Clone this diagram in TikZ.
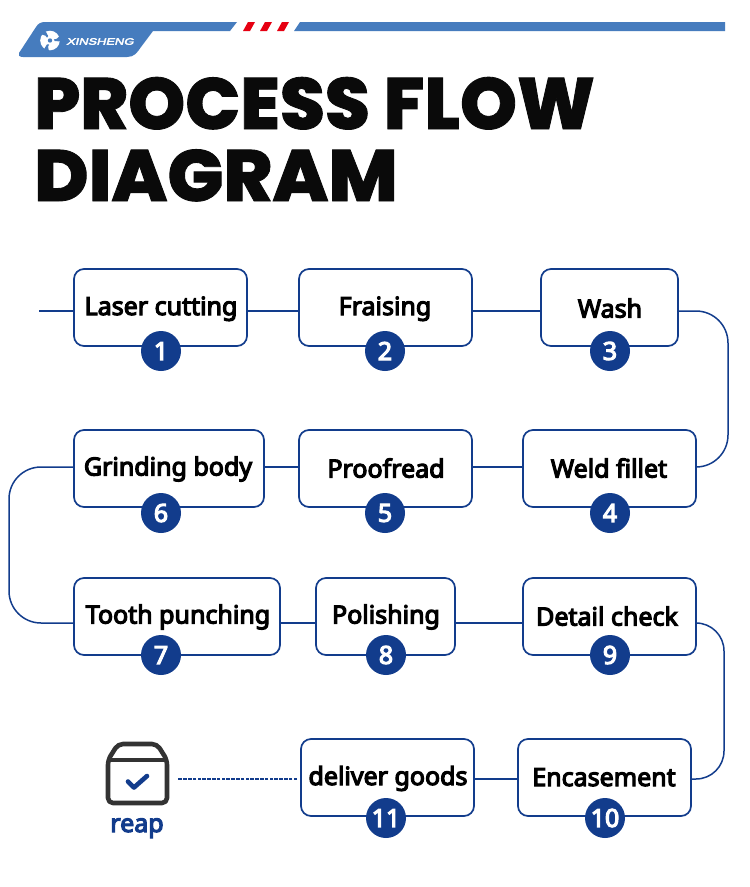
\documentclass[tikz,border=0pt]{standalone}
\usepackage{fontspec}
\setmainfont{Noto Sans}
\newfontfamily\labelfont[FakeBold=4.6]{Noto Sans}
\newfontfamily\headfont[FakeBold=1.2]{Poppins ExtraBold}
\newfontfamily\brandfont[FakeBold=4,FakeSlant=0.25,FakeStretch=1.4]{Liberation Sans}
\definecolor{flowblue}{HTML}{123C8C}
\definecolor{bandblue}{HTML}{467CBE}
\definecolor{slashred}{HTML}{E60012}
\definecolor{inkblack}{HTML}{0A0A0A}
\definecolor{boxgrey}{HTML}{333333}
\tikzset{
  x=1pt,y=-1pt,
  stage/.style={draw=flowblue,line width=1.7pt,rounded corners=10pt,fill=white,minimum height=77pt,inner sep=0pt},
  badge/.style={circle,fill=flowblue,text=white,minimum size=40pt,inner sep=0pt,font=\labelfont\fontsize{25}{28}\selectfont},
  link/.style={draw=flowblue,line width=1.5pt},
  headline/.style={font=\headfont\fontsize{72.5}{75}\selectfont,text=inkblack,anchor=base west,inner sep=0pt},
  stagetext/.style={inner sep=0pt,anchor=base,font=\labelfont\fontsize{25}{28}\selectfont,text=black},
}
\begin{document}
\begin{tikzpicture}
\useasboundingbox (0,0) rectangle (750,887);
\fill[white] (0,0) rectangle (750,887);

% header band
\fill[bandblue] (19,53) -- (36,27) .. controls (38,23.5) and (41,22) .. (45,22) -- (237,22) -- (230,31) -- (153,31)
   -- (141,47) .. controls (137,53) and (134,57) .. (127,57) -- (23,57) .. controls (19,57) and (18,55) .. (19,53) -- cycle;
\fill[bandblue] (300,22) -- (725,22) -- (725,31) -- (294,31) -- cycle;
\foreach \sx in {243,260,277}
  \fill[slashred] (\sx+5,22) -- (\sx+12,22) -- (\sx+7,31) -- (\sx,31) -- cycle;

% brand mark: a white disc cut by three curved blades
\fill[white] (50,40.5) circle (9.8);
\fill[bandblue] (50,40.5) circle (2.2);
\foreach \a in {-25,95,215}
  \fill[bandblue] (50,40.5) ++(\a:11) .. controls +(\a+165:4) and +(\a+60:2) .. ++(\a+175:7) -- ++(\a+90:2) .. controls +(\a+20:3) and +(\a+150:3) .. ++(\a+15:8) -- cycle;
\node[inner sep=0pt,text=white,font=\brandfont\fontsize{9.2}{10}\selectfont] (brand) at (100,41.5) {XINSHENG};

% title
\node[headline] (titleA) at (34,129) {PROCESS FLOW};
\node[headline,xscale=1.022] (titleB) at (34,201) {DIAGRAM};

% process stages
\node[stage,minimum width=173pt] (s1) at (160.5,307.5) {};
\node[stage,minimum width=173pt] (s2) at (385.5,307.5) {};
\node[stage,minimum width=137pt] (s3) at (609.5,307.5) {};
\node[stage,minimum width=173pt] (s4) at (609.5,468.5) {};
\node[stage,minimum width=173pt] (s5) at (385.5,468.5) {};
\node[stage,minimum width=190pt] (s6) at (169,468.5) {};
\node[stage,minimum width=206pt] (s7) at (177,616.5) {};
\node[stage,minimum width=139pt] (s8) at (385.5,616.5) {};
\node[stage,minimum width=173pt] (s9) at (609.5,616.5) {};
\node[stage,minimum width=173pt] (s10) at (604.5,777.5) {};
\node[stage,minimum width=173pt] (s11) at (387.5,777.5) {};

\node[stagetext] (t1) at (161,315) {Laser cutting};
\node[stagetext] (t2) at (385,315) {Fraising};
\node[stagetext] (t3) at (610,317.5) {Wash};
\node[stagetext] (t4) at (609,477.5) {Weld fillet};
\node[stagetext] (t5) at (386,477.5) {Proofread};
\node[stagetext] (t6) at (168,475.5) {Grinding body};
\node[stagetext] (t7) at (178,623.5) {Tooth punching};
\node[stagetext] (t8) at (386,623.5) {Polishing};
\node[stagetext] (t9) at (607,625.5) {Detail check};
\node[stagetext] (t10) at (604,786) {Encasement};
\node[stagetext] (t11) at (388,785) {deliver goods};

% connectors
\coordinate (start) at (39,311);
\coordinate (turnA) at (728,311);
\coordinate (turnAb) at (728,467);
\coordinate (turnB) at (9,467);
\coordinate (turnBb) at (9,623);
\coordinate (turnC) at (724,623);
\coordinate (turnCb) at (724,779);
\draw[link] (start) -- ([yshift=-3.5pt]s1.west);
\draw[link] ([yshift=-3.5pt]s1.east) -- ([yshift=-3.5pt]s2.west);
\draw[link] ([yshift=-3.5pt]s2.east) -- ([yshift=-3.5pt]s3.west);
\draw[link,rounded corners=32pt] ([yshift=-3.5pt]s3.east) -- (turnA) -- (turnAb) -- ([yshift=1.5pt]s4.east);
\draw[link] ([yshift=1.5pt]s4.west) -- ([yshift=1.5pt]s5.east);
\draw[link] ([yshift=1.5pt]s5.west) -- ([yshift=1.5pt]s6.east);
\draw[link,rounded corners=32pt] ([yshift=1.5pt]s6.west) -- (turnB) -- (turnBb) -- ([yshift=-6.5pt]s7.west);
\draw[link] ([yshift=-6.5pt]s7.east) -- ([yshift=-6.5pt]s8.west);
\draw[link] ([yshift=-6.5pt]s8.east) -- ([yshift=-6.5pt]s9.west);
\draw[link,rounded corners=28pt] ([yshift=-6.5pt]s9.east) -- (turnC) -- (turnCb) -- ([yshift=-1.5pt]s10.east);
\draw[link] ([yshift=-1.5pt]s10.west) -- ([yshift=-1.5pt]s11.east);

% numbered badges
\node[badge] (b1) at (161,351) {1};
\node[badge] (b2) at (385,351) {2};
\node[badge] (b3) at (610,351) {3};
\node[badge] (b4) at (610,513) {4};
\node[badge] (b5) at (385,513) {5};
\node[badge] (b6) at (161,513) {6};
\node[badge] (b7) at (161,655) {7};
\node[badge] (b8) at (386,655) {8};
\node[badge] (b9) at (610,655) {9};
\node[badge] (b10) at (605,818) {10};
\node[badge] (b11) at (386,818) {11};

% delivered parcel
\draw[boxgrey,line width=4.6pt,line join=round,rounded corners=5pt]
  (108,760) -- (108,803) -- (167,803) -- (167,760) -- (157,744) -- (118,744) -- cycle;
\draw[boxgrey,line width=4.6pt] (108,760) -- (167,760);
\draw[flowblue,line width=4.6pt,line cap=round,line join=round] (128,781.5) -- (134,787.5) -- (147,776);
\node[inner sep=0pt,anchor=base,text=flowblue,font=\labelfont\fontsize{25}{28}\selectfont] (reap) at (137,832) {reap};
\coordinate (parcelEnd) at (178,779);
\draw[link,line width=1.5pt,dash pattern=on 3.5pt off 1.3pt] ([xshift=-3pt,yshift=-1.5pt]s11.west) -- (parcelEnd);
\end{tikzpicture}
\end{document}
